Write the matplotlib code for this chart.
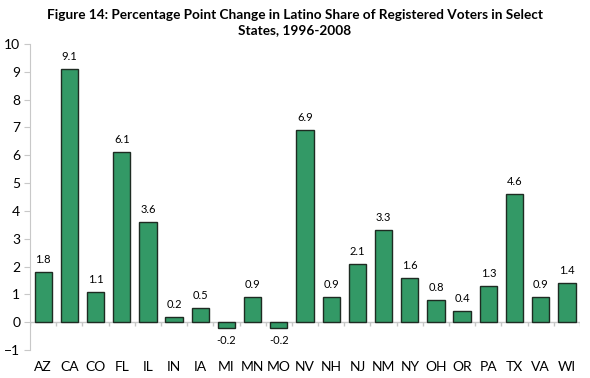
import matplotlib.pyplot as plt
import numpy as np

plt.rcParams['font.family'] = ['Lato', 'DejaVu Sans']

states = ['AZ', 'CA', 'CO', 'FL', 'IL', 'IN', 'IA', 'MI', 'MN', 'MO', 'NV',
          'NH', 'NJ', 'NM', 'NY', 'OH', 'OR', 'PA', 'TX', 'VA', 'WI']
change = [1.8, 9.1, 1.1, 6.1, 3.6, 0.2, 0.5, -0.2, 0.9, -0.2, 6.9,
          0.9, 2.1, 3.3, 1.6, 0.8, 0.4, 1.3, 4.6, 0.9, 1.4]

fig = plt.figure(figsize=(5.9, 3.78), dpi=100)
ax = fig.add_axes([0.051, 0.074, 0.932, 0.81])

x = np.arange(len(states))
ax.bar(x, change, width=0.66, color='#339966', edgecolor='#1e2b22', linewidth=1.0, zorder=3)

# value labels
for xi, v in zip(x, change):
    if v >= 0:
        ax.text(xi, v + 0.25, f'{v:.1f}', ha='center', va='bottom', fontsize=8)
    else:
        ax.text(xi, v - 0.25, f'{v:.1f}', ha='center', va='top', fontsize=8)

# zero line with category ticks
ax.axhline(0, color='#c8c8c8', linewidth=1, zorder=2)
bounds = np.arange(len(states) + 1) - 0.5
ax.vlines(bounds, -0.12, 0, color='#c8c8c8', linewidth=1, zorder=2)

ax.set_xlim(-0.5, len(states) - 0.5)
ax.set_ylim(-1, 10)
ax.set_yticks(range(-1, 11))
ax.set_xticks(x)
ax.set_xticklabels(states, fontsize=10)
ax.tick_params(axis='x', length=0, pad=8)
ax.tick_params(axis='y', length=4, color='#c8c8c8', labelsize=10, pad=3)

for s in ['top', 'right', 'bottom']:
    ax.spines[s].set_visible(False)
ax.spines['left'].set_color('#c8c8c8')

fig.suptitle('Figure 14: Percentage Point Change in Latino Share of Registered Voters in Select\nStates, 1996-2008',
             fontsize=9.8, fontweight='bold', x=0.5, y=0.975, linespacing=1.25)

fig.savefig('out.png', dpi=100)
